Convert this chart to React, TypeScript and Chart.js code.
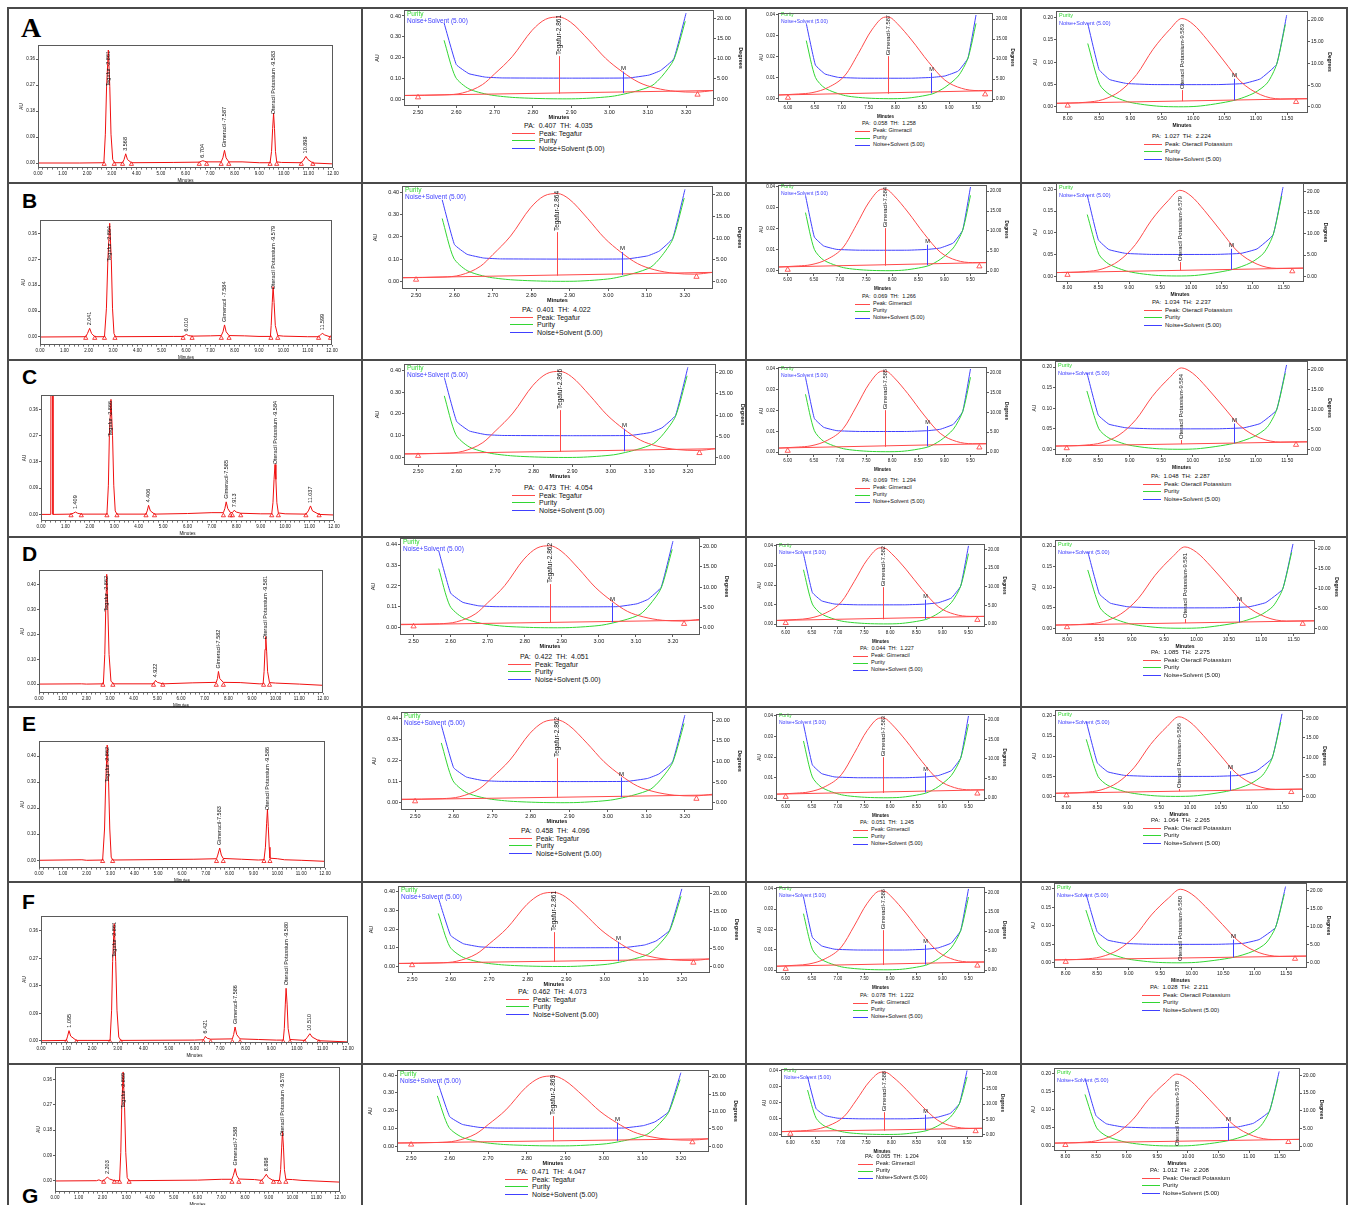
import React, { useEffect, useRef } from "react";
import { Chart, registerables } from "chart.js";

Chart.register(...registerables);

type Pt = [number, number];
type Box = [number, number, number, number];

const FONT = "'Liberation Sans', Arial, Helvetica, sans-serif";
const SERIF = "'Liberation Serif', 'Times New Roman', serif";
const TRACE_RED = "#f01010";
const PEAK_RED = "#ff4a4a";
const GREEN = "#33d633";
const BLUE = "#4040ff";
const INK = "#111111";
const FRAME = "#5a5a5a";

const ROW_LETTERS = ["A", "B", "C", "D", "E", "F", "G"];

/* ---------------- chromatograms (first column) ---------------- */
const CHROM_X_TICKS = [0, 1, 2, 3, 4, 5, 6, 7, 8, 9, 10, 11, 12];
const CHROM_Y_TICKS_09 = [0, 0.09, 0.18, 0.27, 0.36];
const CHROM_Y_TICKS_10 = [0, 0.1, 0.2, 0.3, 0.4];

const TRACE_A: Pt[] = [
  [0, 0], [1.7, 0], [2.68, 0.001], [2.74, 0.1], [2.79, 0.265], [2.861, 0.392], [2.92, 0.265], [2.97, 0.1], [3.04, 0.012], [3.12, 0.001],
  [3.44, 0.001], [3.5, 0.012], [3.568, 0.032], [3.64, 0.012], [3.8, 0.001],
  [5.5, 0.002], [6.56, 0.003], [6.64, 0.006], [6.704, 0.008], [6.78, 0.006], [6.86, 0.004],
  [7.45, 0.004], [7.52, 0.018], [7.587, 0.044], [7.65, 0.018], [7.76, 0.004], [8.3, 0.004],
  [9.0, 0.001], [9.44, 0.001], [9.5, 0.04], [9.545, 0.12], [9.583, 0.173], [9.62, 0.12], [9.66, 0.04], [9.71, 0.004], [9.9, 0.002],
  [10.71, 0.001], [10.8, 0.01], [10.898, 0.023], [10.98, 0.012], [11.18, 0.0], [12, -0.003],
];
const TRACE_B: Pt[] = [
  [0, 0], [1.88, 0.001], [1.95, 0.012], [2.041, 0.03], [2.12, 0.012], [2.25, 0.001],
  [2.65, 0.001], [2.73, 0.1], [2.79, 0.27], [2.864, 0.395], [2.93, 0.27], [2.98, 0.1], [3.04, 0.012], [3.1, 0.001],
  [5.5, 0.002], [5.88, 0.002], [5.95, 0.005], [6.01, 0.009], [6.1, 0.005], [6.25, 0.003],
  [7.0, 0.004], [7.45, 0.005], [7.52, 0.018], [7.584, 0.042], [7.65, 0.018], [7.77, 0.005], [8.4, 0.004],
  [9.0, 0.002], [9.47, 0.002], [9.5, 0.04], [9.545, 0.12], [9.579, 0.175], [9.62, 0.12], [9.67, 0.04], [9.77, 0.005], [10.0, 0.003],
  [11.0, 0.001], [11.45, 0.001], [11.52, 0.006], [11.599, 0.013], [11.7, 0.007], [11.94, 0.0], [12, 0],
];
const TRACE_C: Pt[] = [
  [0, 0], [0.4, 0], [0.41, 0.6], [0.48, 0.6], [0.49, 0], [1.23, 0.001], [1.32, 0.004], [1.409, 0.008], [1.5, 0.004], [1.65, 0.001],
  [2.7, 0.001], [2.76, 0.1], [2.8, 0.27], [2.866, 0.394], [2.93, 0.27], [2.98, 0.1], [3.04, 0.012], [3.11, 0.001],
  [4.3, 0.001], [4.35, 0.012], [4.406, 0.031], [4.48, 0.012], [4.65, 0.001],
  [6.0, 0.003], [7.0, 0.006], [7.47, 0.006], [7.53, 0.02], [7.585, 0.043], [7.65, 0.02], [7.75, 0.007], [7.84, 0.006], [7.913, 0.014], [8.0, 0.008], [8.18, 0.004],
  [9.0, 0.002], [9.45, 0.002], [9.5, 0.04], [9.545, 0.12], [9.584, 0.171], [9.62, 0.12], [9.66, 0.04], [9.72, 0.005], [10.0, 0.002],
  [10.85, 0.001], [10.95, 0.012], [11.037, 0.029], [11.12, 0.012], [11.39, 0.0], [12, -0.002],
];
const TRACE_D: Pt[] = [
  [0, 0], [1.8, 0.001], [2.0, 0], [2.72, 0.001], [2.78, 0.12], [2.82, 0.3], [2.862, 0.443], [2.91, 0.3], [2.96, 0.12], [3.04, 0.012], [3.15, 0.001],
  [4.84, 0.001], [4.88, 0.007], [4.922, 0.015], [5.0, 0.007], [5.23, 0.001],
  [6.5, 0.005], [7.49, 0.007], [7.54, 0.022], [7.582, 0.051], [7.64, 0.022], [7.79, 0.007], [8.5, 0.006],
  [9.3, 0.001], [9.47, 0.001], [9.51, 0.05], [9.55, 0.14], [9.581, 0.192], [9.62, 0.13], [9.66, 0.05], [9.74, 0.006], [10.0, 0.004],
  [11, 0.0], [12, -0.005],
];
const TRACE_E: Pt[] = [
  [0, 0], [1.8, 0.002], [2.0, 0], [2.67, 0.001], [2.75, 0.12], [2.8, 0.3], [2.862, 0.442], [2.92, 0.3], [2.97, 0.12], [3.03, 0.012], [3.09, 0.001],
  [6.5, 0.004], [7.45, 0.006], [7.5, 0.02], [7.583, 0.047], [7.65, 0.02], [7.73, 0.007], [8.5, 0.004],
  [9.2, 0.001], [9.44, 0.002], [9.5, 0.05], [9.55, 0.14], [9.586, 0.196], [9.62, 0.13], [9.66, 0.05], [9.69, 0.008], [10.0, 0.006], [10.3, 0.002],
  [11, 0.0], [12, -0.004],
];
const TRACE_F: Pt[] = [
  [0, 0], [0.99, 0.001], [1.04, 0.015], [1.095, 0.033], [1.16, 0.015], [1.38, 0.001], [1.8, 0.001],
  [2.7, 0.001], [2.76, 0.1], [2.8, 0.26], [2.861, 0.384], [2.92, 0.26], [2.97, 0.1], [3.04, 0.012], [3.12, 0.001],
  [6.0, 0.002], [6.35, 0.003], [6.39, 0.008], [6.421, 0.014], [6.5, 0.008], [6.63, 0.005],
  [7.48, 0.006], [7.53, 0.02], [7.586, 0.045], [7.65, 0.02], [7.78, 0.006], [8.5, 0.004],
  [9.2, 0.002], [9.47, 0.002], [9.51, 0.04], [9.55, 0.12], [9.58, 0.172], [9.62, 0.12], [9.66, 0.04], [9.73, 0.004],
  [10.31, 0.001], [10.4, 0.01], [10.51, 0.023], [10.6, 0.012], [10.86, 0.0], [12, -0.004],
];
const TRACE_G: Pt[] = [
  [0, 0], [1.75, 0.001], [1.85, 0.004], [1.95, 0.0], [2.05, 0.001], [2.12, 0.007], [2.203, 0.014], [2.3, 0.007], [2.5, 0.001],
  [2.72, 0.001], [2.77, 0.1], [2.81, 0.26], [2.869, 0.386], [2.93, 0.26], [2.98, 0.1], [3.04, 0.012], [3.12, 0.001],
  [6.0, 0.003], [7.0, 0.006], [7.45, 0.006], [7.51, 0.02], [7.588, 0.044], [7.65, 0.02], [7.74, 0.007], [8.4, 0.005],
  [8.7, 0.002], [8.8, 0.012], [8.898, 0.024], [8.98, 0.012], [9.2, 0.001],
  [9.45, 0.002], [9.5, 0.04], [9.545, 0.12], [9.578, 0.176], [9.62, 0.12], [9.66, 0.04], [9.72, 0.006], [10.0, 0.005], [10.4, 0.002], [12, -0.004],
];
const CHROM_TRACES = [TRACE_A, TRACE_B, TRACE_C, TRACE_D, TRACE_E, TRACE_F, TRACE_G];

// peak start / end markers (minutes)
const TRI_A = [2.69, 3.1, 3.44, 3.8, 6.56, 6.86, 7.45, 7.76, 9.44, 9.71, 10.71, 11.18];
const TRI_B = [1.88, 2.25, 2.65, 3.08, 5.88, 6.25, 7.45, 7.77, 9.49, 9.77, 11.45, 11.94];
const TRI_C = [1.23, 1.65, 2.7, 3.11, 4.3, 4.65, 7.47, 7.75, 7.84, 8.18, 9.45, 9.72, 10.85, 11.39];
const TRI_D = [2.7, 3.12, 4.84, 5.23, 7.49, 7.79, 9.49, 9.74];
const TRI_E = [2.67, 3.09, 7.45, 7.73, 9.44, 9.69];
const TRI_F = [0.99, 1.38, 2.7, 3.12, 6.35, 6.63, 7.48, 7.78, 9.47, 9.73, 10.31, 10.86];
const TRI_G = [2.05, 2.5, 2.72, 3.12, 7.45, 7.74, 8.7, 9.2, 9.45, 9.72];
const CHROM_TRIS = [TRI_A, TRI_B, TRI_C, TRI_D, TRI_E, TRI_F, TRI_G];
const TRI_LEVEL = -0.004;

// peak labels: [retention time, apex AU, label]
type Peak = [number, number, string];
const PEAKS_A: Peak[] = [
  [2.861, 0.392, "Tegafur -2.861"], [3.568, 0.032, "3.568"], [6.704, 0.008, "6.704"],
  [7.587, 0.044, "Gimeracil -7.587"], [9.583, 0.173, "Oteracil Potassium -9.583"], [10.898, 0.023, "10.898"],
];
const PEAKS_B: Peak[] = [
  [2.041, 0.03, "2.041"], [2.864, 0.395, "Tegafur -2.864"], [6.01, 0.009, "6.010"],
  [7.584, 0.042, "Gimeracil -7.584"], [9.579, 0.175, "Oteracil Potassium -9.579"], [11.599, 0.013, "11.599"],
];
const PEAKS_C: Peak[] = [
  [1.409, 0.008, "1.409"], [2.866, 0.394, "Tegafur -2.866"], [4.406, 0.031, "4.406"],
  [7.585, 0.043, "Gimeracil-7.585"], [7.913, 0.014, "7.913"], [9.584, 0.171, "Oteracil Potassium -9.584"], [11.037, 0.029, "11.037"],
];
const PEAKS_D: Peak[] = [
  [2.862, 0.443, "Tegafur -2.862"], [4.922, 0.015, "4.922"],
  [7.582, 0.051, "Gimeracil-7.582"], [9.581, 0.192, "Oteracil Potassium -9.581"],
];
const PEAKS_E: Peak[] = [
  [2.862, 0.442, "Tegafur -2.862"], [7.583, 0.047, "Gimeracil-7.583"], [9.586, 0.196, "Oteracil Potassium -9.586"],
];
const PEAKS_F: Peak[] = [
  [1.095, 0.033, "1.095"], [2.861, 0.384, "Tegafur -2.861"], [6.421, 0.014, "6.421"],
  [7.586, 0.045, "Gimeracil-7.586"], [9.58, 0.172, "Oteracil Potassium -9.580"], [10.51, 0.023, "10.510"],
];
const PEAKS_G: Peak[] = [
  [2.203, 0.014, "2.203"], [2.869, 0.386, "Tegafur -2.869"], [7.588, 0.044, "Gimeracil-7.588"],
  [8.898, 0.024, "8.898"], [9.578, 0.176, "Oteracil Potassium -9.578"],
];
const CHROM_PEAKS = [PEAKS_A, PEAKS_B, PEAKS_C, PEAKS_D, PEAKS_E, PEAKS_F, PEAKS_G];

const CHROM_Y_TICKS = [CHROM_Y_TICKS_09, CHROM_Y_TICKS_09, CHROM_Y_TICKS_09, CHROM_Y_TICKS_10, CHROM_Y_TICKS_10, CHROM_Y_TICKS_09, CHROM_Y_TICKS_09];
const CHROM_Y_RANGE: Pt[] = [
  [-0.0173, 0.4095], [-0.0278, 0.4065], [-0.0226, 0.409], [-0.036, 0.4604], [-0.0296, 0.4577], [-0.0075, 0.409], [-0.039, 0.4035],
];

/* ---------------- peak purity plots ---------------- */
// Tegafur
const TEG_PEAK: Pt[] = [
  [2.463, 0.017], [2.57, 0.02], [2.616, 0.029], [2.668, 0.069], [2.7, 0.121], [2.746, 0.204], [2.798, 0.331], [2.833, 0.384],
  [2.868, 0.395], [2.898, 0.371], [2.946, 0.284], [2.99, 0.196], [3.033, 0.132], [3.077, 0.08], [3.12, 0.053], [3.172, 0.037],
  [3.224, 0.033], [3.273, 0.041],
];
const TEG_PEAK_HI: Pt[] = [
  [2.463, 0.019], [2.57, 0.022], [2.616, 0.032], [2.668, 0.075], [2.7, 0.132], [2.746, 0.222], [2.798, 0.361], [2.833, 0.419],
  [2.868, 0.431], [2.898, 0.404], [2.946, 0.31], [2.99, 0.214], [3.033, 0.144], [3.077, 0.087], [3.12, 0.058], [3.172, 0.04],
  [3.224, 0.036], [3.273, 0.045],
];
const TEG_BASE: Pt[] = [[2.463, 0.017], [3.273, 0.041]];
const TEG_PUR: Pt[] = [
  [2.568, 14.5], [2.598, 5.4], [2.633, 2.5], [2.685, 1.07], [2.746, 0.4], [2.833, 0.08], [2.92, 0.08], [3.007, 0.66],
  [3.068, 1.9], [3.111, 3.3], [3.137, 5.6], [3.168, 9.7], [3.198, 19.2],
];
const TEG_NOISE: Pt[] = [
  [2.568, 18.8], [2.6, 8.5], [2.633, 6.25], [2.676, 5.4], [2.72, 5.2], [2.9, 5.15], [3.05, 5.2], [3.103, 5.9],
  [3.133, 7.0], [3.168, 9.9], [3.2, 21.2],
];
const TEG_TRI: Pt[] = [[2.5, 0.008], [3.23, 0.021]];
const TEG_APEX: Pt = [2.868, 0.026];
const TEG_M = [3.035, 0.029, 0.132];
const TEG_XTICKS = [2.5, 2.6, 2.7, 2.8, 2.9, 3.0, 3.1, 3.2];
const TEG_YTICKS = [0, 0.1, 0.2, 0.3, 0.4];
const TEG_YTICKS_HI = [0, 0.11, 0.22, 0.33, 0.44];
const TEG_NAMES = ["Tegafur-2.861", "Tegafur-2.864", "Tegafur-2.866", "Tegafur-2.862", "Tegafur-2.862", "Tegafur-2.861", "Tegafur-2.869"];
const TEG_PA = ["0.407", "0.401", "0.473", "0.422", "0.458", "0.462", "0.471"];
const TEG_TH = ["4.035", "4.022", "4.054", "4.051", "4.096", "4.073", "4.047"];

// Gimeracil
const GIM_PEAK: Pt[] = [
  [5.814, 0.0019], [6.2, 0.0024], [6.446, 0.003], [6.756, 0.0056], [7.066, 0.0114], [7.31, 0.0217], [7.56, 0.0329],
  [7.81, 0.039], [7.9, 0.0388], [8.03, 0.036], [8.3, 0.0281], [8.61, 0.0178], [8.92, 0.009], [9.23, 0.0051], [9.54, 0.004],
  [9.816, 0.004],
];
const GIM_BASE: Pt[] = [[5.814, 0.0019], [9.816, 0.004]];
const GIM_PUR: Pt[] = [
  [6.34, 14.6], [6.51, 5.4], [6.69, 2.7], [7.07, 0.83], [7.56, 0.17], [8.18, 0.17], [8.68, 1.25], [8.92, 2.9],
  [9.17, 5.75], [9.35, 10.2], [9.5, 18.9],
];
const GIM_NOISE: Pt[] = [
  [6.34, 18.9], [6.51, 8.5], [6.69, 6.25], [6.94, 5.4], [7.375, 5.2], [8.3, 5.2], [8.68, 5.4], [8.92, 5.75],
  [9.17, 7.0], [9.35, 10.2], [9.5, 21.0],
];
const GIM_TRI: Pt[] = [[6.0, 0.0006], [9.67, 0.0022]];
const GIM_APEX: Pt = [7.86, 0.0025];
const GIM_M = [8.66, 0.0027, 0.0125];
const GIM_XTICKS = [6.0, 6.5, 7.0, 7.5, 8.0, 8.5, 9.0, 9.5];
const GIM_YTICKS = [0, 0.01, 0.02, 0.03, 0.04];
const GIM_NAMES = ["Gimeracil-7.587", "Gimeracil-7.584", "Gimeracil-7.585", "Gimeracil-7.582", "Gimeracil-7.583", "Gimeracil-7.586", "Gimeracil-7.588"];
const GIM_PA = ["0.058", "0.069", "0.069", "0.044", "0.051", "0.078", "0.065"];
const GIM_TH = ["1.258", "1.266", "1.294", "1.227", "1.245", "1.222", "1.204"];

// Oteracil Potassium
const OTE_PEAK: Pt[] = [
  [7.814, 0.0082], [8.29, 0.0105], [8.56, 0.0165], [8.83, 0.035], [9.1, 0.0727], [9.36, 0.129], [9.63, 0.174],
  [9.82, 0.198], [10.0, 0.185], [10.22, 0.151], [10.49, 0.103], [10.75, 0.0577], [11.07, 0.0277], [11.39, 0.018],
  [11.83, 0.0185],
];
const OTE_BASE: Pt[] = [[7.814, 0.0082], [11.83, 0.0185]];
const OTE_PUR: Pt[] = [
  [8.32, 14.6], [8.51, 5.15], [8.67, 2.85], [8.99, 1.08], [9.47, 0.15], [10.06, 0.15], [10.65, 1.5], [10.97, 3.2],
  [11.18, 5.5], [11.33, 9.8], [11.47, 19.0],
];
const OTE_NOISE: Pt[] = [
  [8.32, 19.2], [8.5, 8.6], [8.67, 6.3], [8.94, 5.4], [9.36, 5.15], [10.4, 5.15], [10.81, 5.4], [11.07, 6.46],
  [11.33, 9.8], [11.49, 21.1],
];
const OTE_TRI: Pt[] = [[8.0, 0.003], [11.64, 0.0112]];
const OTE_APEX: Pt = [9.82, 0.013];
const OTE_M = [10.65, 0.015, 0.063];
const OTE_XTICKS = [8.0, 8.5, 9.0, 9.5, 10.0, 10.5, 11.0, 11.5];
const OTE_YTICKS = [0, 0.05, 0.1, 0.15, 0.2];
const OTE_NAMES = [
  "Oteracil Potassium-9.583", "Oteracil Potassium-9.579", "Oteracil Potassium-9.584", "Oteracil Potassium-9.581",
  "Oteracil Potassium-9.586", "Oteracil Potassium-9.580", "Oteracil Potassium-9.578",
];
const OTE_PA = ["1.027", "1.034", "1.048", "1.085", "1.064", "1.028", "1.012"];
const OTE_TH = ["2.224", "2.237", "2.287", "2.275", "2.265", "2.211", "2.208"];

const DEG_TICKS = [0, 5, 10, 15, 20];

const PUR_DATA = [
  {
    peaks: [TEG_PEAK, TEG_PEAK, TEG_PEAK, TEG_PEAK_HI, TEG_PEAK_HI, TEG_PEAK, TEG_PEAK],
    yticks: [TEG_YTICKS, TEG_YTICKS, TEG_YTICKS, TEG_YTICKS_HI, TEG_YTICKS_HI, TEG_YTICKS, TEG_YTICKS],
    base: TEG_BASE, pur: TEG_PUR, noise: TEG_NOISE, tri: TEG_TRI, apex: TEG_APEX, m: TEG_M,
    xticks: TEG_XTICKS, names: TEG_NAMES, pa: TEG_PA, th: TEG_TH, peakName: "Peak: Tegafur",
  },
  {
    peaks: [GIM_PEAK, GIM_PEAK, GIM_PEAK, GIM_PEAK, GIM_PEAK, GIM_PEAK, GIM_PEAK],
    yticks: [GIM_YTICKS, GIM_YTICKS, GIM_YTICKS, GIM_YTICKS, GIM_YTICKS, GIM_YTICKS, GIM_YTICKS],
    base: GIM_BASE, pur: GIM_PUR, noise: GIM_NOISE, tri: GIM_TRI, apex: GIM_APEX, m: GIM_M,
    xticks: GIM_XTICKS, names: GIM_NAMES, pa: GIM_PA, th: GIM_TH, peakName: "Peak: Gimeracil",
  },
  {
    peaks: [OTE_PEAK, OTE_PEAK, OTE_PEAK, OTE_PEAK, OTE_PEAK, OTE_PEAK, OTE_PEAK],
    yticks: [OTE_YTICKS, OTE_YTICKS, OTE_YTICKS, OTE_YTICKS, OTE_YTICKS, OTE_YTICKS, OTE_YTICKS],
    base: OTE_BASE, pur: OTE_PUR, noise: OTE_NOISE, tri: OTE_TRI, apex: OTE_APEX, m: OTE_M,
    xticks: OTE_XTICKS, names: OTE_NAMES, pa: OTE_PA, th: OTE_TH, peakName: "Peak: Oteracil Potassium",
  },
];

/* ---------------- layout (positions & styles) ---------------- */
const CHROM_BOX: Box[] = [
  [38, 45, 333, 168], [40, 220, 332, 345], [41, 395, 334, 521], [39, 570, 323, 693],
  [39, 741, 325, 868], [41, 916, 348, 1043], [55, 1067, 340, 1192],
];
const PUR_BOX: Box[][] = [
  [[404, 10, 714, 106], [402, 186, 713, 289], [404, 364, 716, 465], [400, 538, 700, 635], [401, 712, 713, 810], [398, 886, 710, 973], [397, 1070, 709, 1152]],
  [[778, 13, 993, 102], [778, 185, 987, 274], [778, 367, 987, 455], [776, 544, 985, 627], [776, 714, 985, 801], [776, 887, 985, 973], [781, 1069, 983, 1137]],
  [[1056, 11, 1308, 113], [1056, 183, 1304, 282], [1055, 361, 1308, 455], [1055, 540, 1315, 634], [1055, 710, 1303, 802], [1054, 883, 1307, 968], [1054, 1068, 1300, 1151]],
];
const PUR_PA_Y = [
  [126, 310, 488, 657, 831, 992, 1172],
  [124, 297, 481, 649, 823, 996, 1157],
  [136, 302, 476, 652, 820, 987, 1170],
];
const PUR_RANGE = [
  { x: [2.4634, 3.273], yL: [-0.0337, 0.4289], yLHi: [-0.0371, 0.4718], yR: [-1.73, 21.98] },
  { x: [5.814, 9.816], yL: [-0.00143, 0.04095], yLHi: [-0.00143, 0.04095], yR: [-0.75, 21.5] },
  { x: [7.814, 11.83], yL: [-0.0135, 0.2148], yLHi: [-0.0135, 0.2148], yR: [-1.39, 22.08] },
];
const PUR_STYLE = [
  { axL: 30, axR: 30, axB: 15, tick: 5.5, title: 5.5, lbl: 6.5, lblTop: 5, leg: 6.5, legY: [4, 11], mFont: 6, paFont: 7, paDx: 120, lgX: 108, lgW: 23, lgTx: 135, lgStep: 7.2 },
  { axL: 19, axR: 22, axB: 17, tick: 4.5, title: 4.5, lbl: 5.7, lblTop: 2, leg: 5, legY: [2, 9], mFont: 5.5, paFont: 5.5, paDx: 84, lgX: 77, lgW: 15, lgTx: 95, lgStep: 7 },
  { axL: 23, axR: 24, axB: 16, tick: 5, title: 5, lbl: 5.8, lblTop: 13, leg: 5.5, legY: [4, 12], mFont: 6, paFont: 6, paDx: 96, lgX: 88, lgW: 18, lgTx: 109, lgStep: 7.5 },
];
const LETTER_POS: Pt[] = [[21, 12], [22, 189], [22, 365], [22, 542], [22, 712], [22, 890], [22, 1184]];
const GRID_H = [7, 182, 359, 536, 706, 881, 1063];
const GRID_V = [7, 361, 745, 1020, 1346];

/* ---------------- helpers ---------------- */
const xy = (a: Pt[]) => a.map(([x, y]) => ({ x, y }));

function frame(chart: any) {
  const { ctx, chartArea: a } = chart;
  ctx.save();
  ctx.strokeStyle = FRAME;
  ctx.lineWidth = 1;
  ctx.strokeRect(Math.round(a.left) + 0.5, Math.round(a.top) + 0.5, Math.round(a.right - a.left) - 1, Math.round(a.bottom - a.top) - 1);
  ctx.restore();
}

function axisBase(size: number) {
  return {
    grid: { drawOnChartArea: false, drawTicks: true, tickLength: 2, color: "#333", lineWidth: 0.8 },
    border: { display: false },
    ticks: { autoSkip: false, maxRotation: 0, minRotation: 0, padding: 1, color: INK, font: { family: FONT, size } },
  };
}

function ChartCanvas({ left, top, width, height, make }: { left: number; top: number; width: number; height: number; make: () => any }) {
  const ref = useRef<HTMLCanvasElement | null>(null);
  useEffect(() => {
    const chart = new Chart(ref.current as HTMLCanvasElement, make());
    return () => chart.destroy();
  }, []);
  return (
    <canvas
      ref={ref}
      width={width}
      height={height}
      style={{ position: "absolute", left, top, width, height }}
    />
  );
}

function ChromPanel({ ri }: { ri: number }) {
  const [l, t, r, b] = CHROM_BOX[ri];
  const L = 19, B = 15, T = 5, R = 8;
  const width = r - l + L + R;
  const height = b - t + T + B;
  const minor: number[] = [];
  for (let i = 0; i <= 60; i++) minor.push(i / 5);
  const make = () => ({
    type: "scatter",
    data: {
      datasets: [
        { data: xy(CHROM_TRACES[ri]), showLine: true, borderColor: TRACE_RED, borderWidth: 1, pointRadius: 0, tension: 0 },
        {
          data: CHROM_TRIS[ri].map((x) => ({ x, y: TRI_LEVEL })), showLine: false, pointStyle: "triangle",
          pointRadius: 2.4, borderColor: TRACE_RED, backgroundColor: "rgba(255,255,255,0)", borderWidth: 0.8,
        },
      ],
    },
    options: {
      animation: false, responsive: false, events: [],
      layout: { padding: { top: T, right: R, left: 0, bottom: 0 } },
      plugins: { legend: { display: false }, tooltip: { enabled: false } },
      scales: {
        x: {
          type: "linear", min: 0, max: 12, ...axisBase(4.5),
          afterBuildTicks: (s: any) => { s.ticks = minor.map((v) => ({ value: v })); },
          afterFit: (s: any) => { s.height = B; },
          ticks: {
            ...axisBase(4.5).ticks,
            callback: (v: any) => (CHROM_X_TICKS.some((m) => Math.abs(m - v) < 1e-6) ? Number(v).toFixed(2) : ""),
          },
          grid: { drawOnChartArea: false, drawTicks: true, tickLength: 1.6, color: "#333", lineWidth: 0.7 },
          title: { display: true, text: "Minutes", color: INK, font: { family: FONT, size: 4.5 }, padding: { top: 0, bottom: 0 } },
        },
        y: {
          type: "linear", position: "left", min: CHROM_Y_RANGE[ri][0], max: CHROM_Y_RANGE[ri][1], ...axisBase(4.5),
          afterBuildTicks: (s: any) => { s.ticks = CHROM_Y_TICKS[ri].map((v) => ({ value: v })); },
          afterFit: (s: any) => { s.width = L; },
          ticks: { ...axisBase(4.5).ticks, callback: (v: any) => Number(v).toFixed(2) },
          title: { display: true, text: "AU", color: INK, font: { family: FONT, size: 4.5 }, padding: 0 },
        },
      },
    },
    plugins: [
      {
        id: "chromLabels",
        afterDatasetsDraw(chart: any) {
          const { ctx, chartArea: a, scales } = chart;
          ctx.save();
          ctx.font = `5.5px ${FONT}`;
          ctx.fillStyle = INK;
          ctx.textAlign = "left";
          ctx.textBaseline = "middle";
          for (const [tm, hgt, text] of CHROM_PEAKS[ri]) {
            const px = scales.x.getPixelForValue(tm);
            const py = scales.y.getPixelForValue(hgt);
            const tw = ctx.measureText(text).width;
            let bottom = py - 3;
            if (bottom - tw < a.top + 6) bottom = a.top + 6 + tw;
            ctx.save();
            ctx.translate(px, bottom);
            ctx.rotate(-Math.PI / 2);
            ctx.fillText(text, 0, 0);
            ctx.restore();
          }
          ctx.restore();
        },
        afterDraw: frame,
      },
    ],
  });
  return <ChartCanvas left={l - L} top={t - T} width={width} height={height} make={make} />;
}

function PurityPanel({ ci, ri }: { ci: number; ri: number }) {
  const S = PUR_STYLE[ci];
  const D = PUR_DATA[ci];
  const RG = PUR_RANGE[ci];
  const [l, t, r, b] = PUR_BOX[ci][ri];
  const T = 5;
  const width = r - l + S.axL + S.axR;
  const height = b - t + T + S.axB;
  const hi = D.yticks[ri] === TEG_YTICKS_HI;
  const yL = hi ? RG.yLHi : RG.yL;
  const make = () => ({
    type: "scatter",
    data: {
      datasets: [
        { data: xy(D.peaks[ri]), yAxisID: "y", showLine: true, borderColor: PEAK_RED, borderWidth: 1, pointRadius: 0, cubicInterpolationMode: "monotone" },
        { data: xy(D.base), yAxisID: "y", showLine: true, borderColor: PEAK_RED, borderWidth: 1, pointRadius: 0 },
        { data: xy(D.pur), yAxisID: "y2", showLine: true, borderColor: GREEN, borderWidth: 1, pointRadius: 0, tension: 0.25 },
        { data: xy(D.noise), yAxisID: "y2", showLine: true, borderColor: BLUE, borderWidth: 1, pointRadius: 0, tension: 0.1 },
        {
          data: xy(D.tri), yAxisID: "y", showLine: false, pointStyle: "triangle", pointRadius: 3,
          borderColor: PEAK_RED, backgroundColor: "rgba(255,255,255,0)", borderWidth: 0.9,
        },
      ],
    },
    options: {
      animation: false, responsive: false, events: [],
      layout: { padding: { top: T, right: 0, left: 0, bottom: 0 } },
      plugins: { legend: { display: false }, tooltip: { enabled: false } },
      scales: {
        x: {
          type: "linear", min: RG.x[0], max: RG.x[1], ...axisBase(S.tick),
          afterBuildTicks: (s: any) => { s.ticks = D.xticks.map((v) => ({ value: v })); },
          afterFit: (s: any) => { s.height = S.axB; },
          ticks: { ...axisBase(S.tick).ticks, callback: (v: any) => Number(v).toFixed(2) },
          title: { display: true, text: "Minutes", color: INK, font: { family: FONT, size: S.title, weight: "bold" }, padding: { top: 0, bottom: 0 } },
        },
        y: {
          type: "linear", position: "left", min: yL[0], max: yL[1], ...axisBase(S.tick),
          afterBuildTicks: (s: any) => { s.ticks = D.yticks[ri].map((v) => ({ value: v })); },
          afterFit: (s: any) => { s.width = S.axL; },
          ticks: { ...axisBase(S.tick).ticks, callback: (v: any) => Number(v).toFixed(2) },
          title: { display: true, text: "AU", color: INK, font: { family: FONT, size: S.title }, padding: 0 },
        },
        y2: {
          type: "linear", position: "right", min: RG.yR[0], max: RG.yR[1], ...axisBase(S.tick),
          afterBuildTicks: (s: any) => { s.ticks = DEG_TICKS.map((v) => ({ value: v })); },
          afterFit: (s: any) => { s.width = S.axR; },
          ticks: { ...axisBase(S.tick).ticks, callback: (v: any) => Number(v).toFixed(2) },
          title: { display: true, text: "Degrees", color: INK, font: { family: FONT, size: S.title, weight: "bold" }, padding: 0 },
        },
      },
    },
    plugins: [
      {
        id: "purityOverlay",
        afterDatasetsDraw(chart: any) {
          const { ctx, chartArea: a, scales } = chart;
          const xs = scales.x, ys = scales.y;
          ctx.save();
          ctx.textAlign = "left";
          ctx.textBaseline = "middle";
          ctx.font = `${S.leg}px ${FONT}`;
          ctx.fillStyle = GREEN;
          ctx.fillText("Purity", a.left + 3, a.top + S.legY[0]);
          ctx.fillStyle = BLUE;
          ctx.fillText("Noise+Solvent (5.00)", a.left + 3, a.top + S.legY[1]);

          const mx = Math.round(xs.getPixelForValue(D.m[0])) + 0.5;
          const my0 = ys.getPixelForValue(D.m[1]);
          const my1 = ys.getPixelForValue(D.m[2]);
          ctx.strokeStyle = BLUE;
          ctx.lineWidth = 1;
          ctx.beginPath();
          ctx.moveTo(mx, my0);
          ctx.lineTo(mx, my1);
          ctx.stroke();
          ctx.fillStyle = INK;
          ctx.font = `${S.mFont}px ${FONT}`;
          ctx.textAlign = "center";
          ctx.textBaseline = "bottom";
          ctx.fillText("M", mx, my1 - 0.5);

          const name = D.names[ri];
          ctx.font = `${S.lbl}px ${FONT}`;
          const tw = ctx.measureText(name).width;
          const ax = Math.round(xs.getPixelForValue(D.apex[0])) + 0.5;
          const lb = a.top + S.lblTop + tw;
          ctx.strokeStyle = PEAK_RED;
          ctx.beginPath();
          ctx.moveTo(ax, ys.getPixelForValue(D.apex[1]));
          ctx.lineTo(ax, Math.min(lb + 1, ys.getPixelForValue(D.apex[1])));
          ctx.stroke();
          ctx.translate(ax, lb);
          ctx.rotate(-Math.PI / 2);
          ctx.fillStyle = INK;
          ctx.textAlign = "left";
          ctx.textBaseline = "middle";
          ctx.fillText(name, 0, 0);
          ctx.restore();
        },
        afterDraw: frame,
      },
    ],
  });
  const paY = PUR_PA_Y[ci][ri];
  const legRows: [string, string][] = [[PEAK_RED, D.peakName], [GREEN, "Purity"], [BLUE, "Noise+Solvent (5.00)"]];
  return (
    <>
      <ChartCanvas left={l - S.axL} top={t - T} width={width} height={height} make={make} />
      <div style={{ position: "absolute", left: l + S.paDx, top: Math.round(paY - S.paFont * 0.55), font: `${S.paFont}px ${FONT}`, lineHeight: 1, whiteSpace: "pre", color: INK }}>
        {`PA:  ${D.pa[ri]}  TH:  ${D.th[ri]}`}
      </div>
      {legRows.map(([c, txt], k) => {
        const y = Math.round(paY + S.lgStep * (k + 1));
        return (
          <React.Fragment key={k}>
            <div style={{ position: "absolute", left: l + S.lgX, top: y, width: S.lgW, height: 0, borderTop: `1.5px solid ${c}` }} />
            <div style={{ position: "absolute", left: l + S.lgTx, top: Math.round(y - S.paFont * 0.5), font: `${S.paFont}px ${FONT}`, lineHeight: 1, whiteSpace: "pre", color: INK }}>
              {txt}
            </div>
          </React.Fragment>
        );
      })}
    </>
  );
}

export default function App() {
  return (
    <div style={{ position: "absolute", left: 0, top: 0, width: 1355, height: 1205, background: "#fff", overflow: "hidden" }}>
      {GRID_H.map((y, i) => (
        <div key={"h" + i} style={{ position: "absolute", left: 7, top: y, width: 1341, height: 2, background: "#4a4a4a" }} />
      ))}
      {GRID_V.map((x, i) => (
        <div key={"v" + i} style={{ position: "absolute", left: x, top: 7, width: 2, height: 1198, background: "#4a4a4a" }} />
      ))}
      {ROW_LETTERS.map((letter, i) => (
        <div
          key={letter}
          style={{
            position: "absolute", left: LETTER_POS[i][0], top: LETTER_POS[i][1], lineHeight: 1,
            font: i === 0 ? `bold 28px ${SERIF}` : `bold 21px ${FONT}`, color: "#000",
          }}
        >
          {letter}
        </div>
      ))}
      {ROW_LETTERS.map((_, ri) => (
        <ChromPanel key={"c" + ri} ri={ri} />
      ))}
      {[0, 1, 2].map((ci) =>
        ROW_LETTERS.map((_, ri) => <PurityPanel key={`p${ci}-${ri}`} ci={ci} ri={ri} />)
      )}
    </div>
  );
}
